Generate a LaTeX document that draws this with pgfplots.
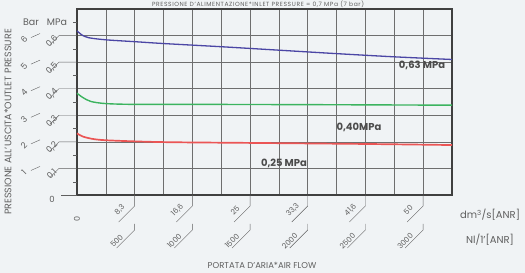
\documentclass[border=0pt]{standalone}
\usepackage{pgfplots}
\pgfplotsset{compat=1.18}
\usepackage{fontspec}
\setmainfont{Poppins}
\usetikzlibrary{backgrounds}
\definecolor{bgc}{RGB}{240,243,245}
\definecolor{gridc}{RGB}{110,110,110}
\definecolor{txt}{RGB}{95,95,95}
\definecolor{cblue}{RGB}{75,70,165}
\definecolor{cgreen}{RGB}{60,180,95}
\definecolor{cred}{RGB}{235,85,85}
\begin{document}
\begin{tikzpicture}
\begin{axis}[
  name=ax,
  scale only axis, width=375pt, height=186pt,
  xmin=0, xmax=3250, ymin=0, ymax=0.7,
  xtick={0,250,...,3250}, ytick={0,0.1,...,0.7},
  xticklabels={}, yticklabels={},
  major tick length=0pt,
  grid=major,
  major grid style={gridc, line width=0.6pt},
  axis line style={draw=black!75, line width=1.3pt},
  clip=false,
]
\addplot[cblue, line width=1.3pt, smooth] coordinates {
 (0,0.618) (40,0.603) (100,0.592) (250,0.584) (500,0.577) (750,0.570) (1250,0.558) (1750,0.545) (2250,0.532) (2750,0.520) (3250,0.510)};
\addplot[cgreen, line width=1.4pt, smooth] coordinates {
 (0,0.383) (50,0.367) (120,0.352) (250,0.344) (500,0.341) (1000,0.341) (2000,0.340) (3250,0.338)};
\addplot[cred, line width=1.7pt, smooth] coordinates {
 (0,0.232) (50,0.220) (150,0.210) (300,0.205) (750,0.199) (1500,0.196) (2500,0.192) (3250,0.188)};
\node[inner sep=0pt, font=\fontsize{10}{11}\selectfont\bfseries, text=black!70] at (axis cs:2990,0.489) {0,63 MPa};
\node[inner sep=0pt, font=\fontsize{10}{11}\selectfont\bfseries, text=black!70] at (axis cs:2444,0.256) {0,40MPa};
\node[inner sep=0pt, font=\fontsize{10}{11}\selectfont\bfseries, text=black!70] at (axis cs:1794,0.120) {0,25 MPa};
\coordinate (bl) at (rel axis cs:0,0);
\coordinate (tr) at (rel axis cs:1,1);
\end{axis}
% x tick labels (two rows)
\foreach \i/\a/\b in {1/8{,}3/500, 2/16{,}6/1000, 3/25/1500, 4/33{,}3/2000, 5/41{,}6/2500, 6/50/3000} {
  \pgfmathsetmacro{\xt}{\i*57.6923}
  \draw[txt, line width=0.4pt] ([xshift=\xt pt]bl) -- ++(0,-11pt) -- ++(-16pt,-16pt);
  \draw[txt, line width=0.4pt] ([xshift=\xt pt, yshift=-29pt]bl) -- ++(0,-6pt) -- ++(-18pt,-18pt);
  \node[txt, rotate=45, inner sep=0pt, font=\fontsize{7.5}{8}\selectfont] at ([xshift=\xt pt-15pt, yshift=-15pt]bl) {\a};
  \node[txt, rotate=45, inner sep=0pt, font=\fontsize{7.5}{8}\selectfont] at ([xshift=\xt pt-18pt, yshift=-46pt]bl) {\b};
}
\node[txt, rotate=90, inner sep=0pt, font=\fontsize{8}{9}\selectfont] at ([yshift=-24pt]bl) {0};
% y labels
\foreach \k/\m in {1/0{,}1, 2/0{,}2, 3/0{,}3, 4/0{,}4, 5/0{,}5, 6/0{,}6} {
  \pgfmathsetmacro{\yt}{\k*26.5714}
  \draw[txt, line width=0.4pt] ([yshift=\yt pt]bl) -- ++(-18pt,0) -- ++(-9pt,-9pt);
  \draw[txt, line width=0.4pt] ([xshift=-46pt, yshift=\yt pt-2pt]bl) -- ++(9pt,4pt);
  \node[txt, rotate=45, inner sep=0pt, font=\fontsize{8.5}{9}\selectfont] at ([xshift=-53pt, yshift=\yt pt-4pt]bl) {\k};
  \node[txt, rotate=45, inner sep=0pt, font=\fontsize{8.5}{9}\selectfont] at ([xshift=-25pt, yshift=\yt pt-6pt]bl) {\m};
}
\foreach \k in {0.5,1.5,...,6.5} {
  \pgfmathsetmacro{\yt}{\k*26.5714}
  \draw[txt, line width=0.4pt] ([yshift=\yt pt]bl) -- ++(-4pt,0);
}
\draw[txt, line width=0.4pt] (bl) -- ++(-16pt,0);
\node[txt, inner sep=0pt, font=\fontsize{8.5}{9}\selectfont] at ([xshift=-25pt, yshift=-4pt]bl) {0};
\node[txt, inner sep=0pt, font=\fontsize{9.5}{10}\selectfont] at ([xshift=-46pt, yshift=173pt]bl) {Bar};
\node[txt, inner sep=0pt, font=\fontsize{9.5}{10}\selectfont] at ([xshift=-20pt, yshift=173pt]bl) {MPa};
% axis titles
\node[txt, rotate=90, inner sep=0pt, font=\fontsize{9.5}{10}\selectfont] at ([xshift=-69pt, yshift=73pt]bl) {PRESSIONE ALL'USCITA*OUTLET PRESSURE};
\node[txt, inner sep=0pt, font=\fontsize{8.5}{9}\selectfont] at ([xshift=185pt, yshift=-70pt]bl) {PORTATA D'ARIA*AIR FLOW};
\node[txt, inner sep=0pt, font=\fontsize{10}{11}\selectfont] at ([xshift=413pt, yshift=-20pt]bl) {dm\textsuperscript{3}/s[ANR]};
\node[txt, inner sep=0pt, font=\fontsize{10}{11}\selectfont] at ([xshift=413pt, yshift=-45pt]bl) {Nl/1'[ANR]};
\node[txt, anchor=base, inner sep=0pt, font=\fontsize{6}{7}\selectfont\addfontfeatures{LetterSpace=10}] at ([xshift=-194pt, yshift=2pt]tr) {PRESSIONE D'ALIMENTAZIONE*INLET PRESSURE = 0,7 MPa (7 bar)};
\pgfresetboundingbox
\path ([shift={(-77pt,-78pt)}]bl) rectangle ([shift={(73pt,9pt)}]tr);
\begin{pgfonlayer}{background}
\fill[bgc] ([shift={(-77pt,-78pt)}]bl) rectangle ([shift={(73pt,9pt)}]tr);
\end{pgfonlayer}
\end{tikzpicture}
\end{document}
